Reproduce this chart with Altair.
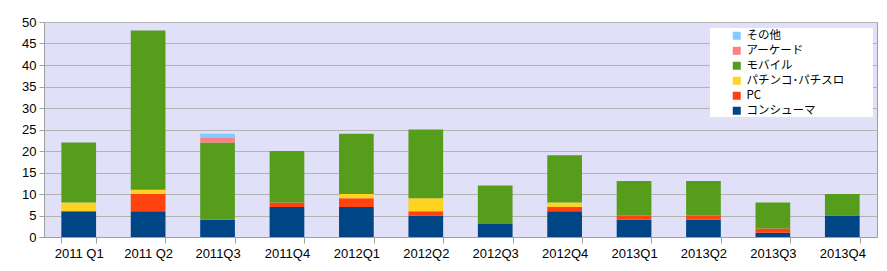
import altair as alt
import pandas as pd

quarters = ["2011 Q1", "2011 Q2", "2011Q3", "2011Q4", "2012Q1", "2012Q2",
            "2012Q3", "2012Q4", "2013Q1", "2013Q2", "2013Q3", "2013Q4"]
consumer = [6, 6, 4, 7, 7, 5, 3, 6, 4, 4, 1, 5]
pc = [0, 4, 0, 1, 2, 1, 0, 1, 1, 1, 1, 0]
pachinko = [2, 1, 0, 0, 1, 3, 0, 1, 0, 0, 0, 0]
mobile = [14, 37, 18, 12, 14, 16, 9, 11, 8, 8, 6, 5]
arcade = [0, 0, 1, 0, 0, 0, 0, 0, 0, 0, 0, 0]
other = [0, 0, 1, 0, 0, 0, 0, 0, 0, 0, 0, 0]

series_names = ["コンシューマ", "PC", "パチンコ･パチスロ", "モバイル", "アーケード", "その他"]
series_vals = [consumer, pc, pachinko, mobile, arcade, other]
series_colors = ["#004586", "#ff420e", "#ffd320", "#579d1c", "#ff8080", "#83caff"]

rows = []
for si, (name, vals) in enumerate(zip(series_names, series_vals)):
    for q, v in zip(quarters, vals):
        rows.append({"quarter": q, "series": name, "value": v, "ord": si})
df = pd.DataFrame(rows)

legend_order = list(reversed(series_names))
legend_colors = list(reversed(series_colors))

font = "Liberation Sans"

bars = alt.Chart(df).mark_bar().encode(
    x=alt.X("quarter:N", sort=quarters,
            scale=alt.Scale(paddingInner=0.5, paddingOuter=0.25),
            axis=alt.Axis(title=None, labelAngle=0, tickBand="extent",
                          labelFontSize=13, labelFont=font, labelColor="#000000",
                          tickSize=6, labelPadding=4, tickColor="#a0a0a0",
                          domainColor="#a0a0a0", grid=False)),
    y=alt.Y("value:Q", stack="zero",
            scale=alt.Scale(domain=[0, 50], nice=False),
            axis=alt.Axis(title=None, values=list(range(0, 51, 5)),
                          labelFontSize=13, labelFont=font, labelColor="#000000",
                          tickSize=5, labelPadding=3, tickColor="#a0a0a0",
                          domainColor="#a0a0a0", gridColor="#b3b3b3")),
    color=alt.Color("series:N",
                    scale=alt.Scale(domain=legend_order, range=legend_colors),
                    legend=alt.Legend(title=None, orient="none",
                                      legendX=666, legendY=3,
                                      symbolType="square", symbolSize=64,
                                      symbolStrokeWidth=0, symbolOffset=16,
                                      labelFont="Noto Sans CJK JP",
                                      labelFontSize=11.5, labelColor="#000000",
                                      rowPadding=2, labelOffset=4, padding=5)),
    order=alt.Order("ord:Q", sort="ascending"),
)

legend_box = alt.Chart(alt.Data(values=[{"a": 1}])).mark_rect(
    color="#ffffff"
).encode(
    x=alt.value(666), x2=alt.value(829), y=alt.value(6), y2=alt.value(95)
)

chart = alt.layer(bars, legend_box).properties(
    width=833, height=215,
    autosize=alt.AutoSizeParams(type="none"),
    padding={"left": 44, "top": 22, "right": 10, "bottom": 34},
    background="#ffffff",
).configure_view(
    fill="#e0e0f8", stroke="#a0a0a0", strokeWidth=1
)

chart.save("out.html", embed_options={"renderer": "svg", "actions": False})
